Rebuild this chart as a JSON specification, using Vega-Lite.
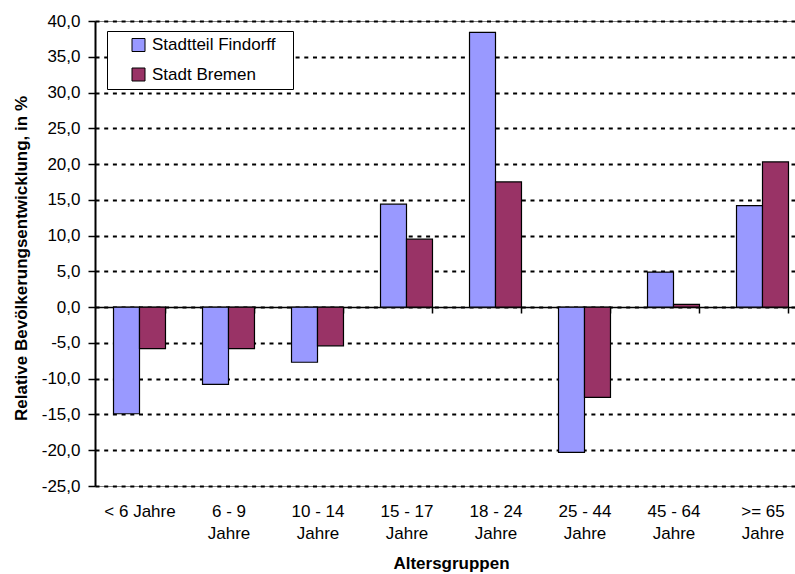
{
  "$schema": "https://vega.github.io/schema/vega-lite/v6.json",
  "width": 700,
  "height": 465,
  "autosize": {"type": "none"},
  "padding": {"left": 95, "top": 21, "right": 0, "bottom": 88},
  "background": "white",
  "config": {
    "font": "Liberation Sans",
    "view": {"stroke": "#808080", "strokeWidth": 1}
  },
  "data": {
    "values": [
      {"group": "< 6 Jahre", "series": "Stadtteil Findorff", "value": -14.9},
      {"group": "< 6 Jahre", "series": "Stadt Bremen", "value": -5.8},
      {"group": "6 - 9 Jahre", "series": "Stadtteil Findorff", "value": -10.8},
      {"group": "6 - 9 Jahre", "series": "Stadt Bremen", "value": -5.8},
      {"group": "10 - 14 Jahre", "series": "Stadtteil Findorff", "value": -7.7},
      {"group": "10 - 14 Jahre", "series": "Stadt Bremen", "value": -5.4},
      {"group": "15 - 17 Jahre", "series": "Stadtteil Findorff", "value": 14.4},
      {"group": "15 - 17 Jahre", "series": "Stadt Bremen", "value": 9.5},
      {"group": "18 - 24 Jahre", "series": "Stadtteil Findorff", "value": 38.4},
      {"group": "18 - 24 Jahre", "series": "Stadt Bremen", "value": 17.5},
      {"group": "25 - 44 Jahre", "series": "Stadtteil Findorff", "value": -20.3},
      {"group": "25 - 44 Jahre", "series": "Stadt Bremen", "value": -12.6},
      {"group": "45 - 64 Jahre", "series": "Stadtteil Findorff", "value": 4.9},
      {"group": "45 - 64 Jahre", "series": "Stadt Bremen", "value": 0.4},
      {"group": ">= 65 Jahre", "series": "Stadtteil Findorff", "value": 14.2},
      {"group": ">= 65 Jahre", "series": "Stadt Bremen", "value": 20.3}
    ]
  },
  "mark": {"type": "bar", "stroke": "black", "strokeWidth": 1.2},
  "encoding": {
    "x": {
      "field": "group",
      "type": "nominal",
      "sort": null,
      "scale": {"range": [0, 712], "paddingInner": 0.416, "paddingOuter": 0.208},
      "axis": {
        "title": "Altersgruppen",
        "titleFont": "Liberation Sans",
        "titleFontSize": 17,
        "titleFontWeight": "bold",
        "titleColor": "black",
        "titleBaseline": "middle",
        "titleY": 256,
        "titleX": 356,
        "offset": -179,
        "domainColor": "black",
        "domainWidth": 1.5,
        "ticks": true,
        "tickBand": "extent",
        "tickSize": 6,
        "tickColor": "black",
        "tickWidth": 1.5,
        "labelAngle": 0,
        "labelFont": "Liberation Sans",
        "labelFontSize": 17,
        "labelColor": "black",
        "labelPadding": 190,
        "labelBaseline": "top",
        "labelLineHeight": 22,
        "labelExpr": "!isString(datum.value) ? '' : (datum.value == '< 6 Jahre' ? datum.value : [replace(datum.value, ' Jahre', ''), 'Jahre'])"
      }
    },
    "xOffset": {
      "field": "series",
      "type": "nominal",
      "sort": ["Stadtteil Findorff", "Stadt Bremen"],
      "scale": {"paddingInner": 0, "paddingOuter": 0}
    },
    "y": {
      "field": "value",
      "type": "quantitative",
      "scale": {"domain": [-25, 40], "nice": false, "zero": false},
      "axis": {
        "title": "Relative Bevölkerungsentwicklung, in %",
        "titleFont": "Liberation Sans",
        "titleFontSize": 17,
        "titleFontWeight": "bold",
        "titleColor": "black",
        "titleAngle": -90,
        "titleAlign": "center",
        "titleBaseline": "middle",
        "titleX": -74,
        "titleY": 237,
        "values": [-25, -20, -15, -10, -5, 0, 5, 10, 15, 20, 25, 30, 35, 40],
        "labelExpr": "(datum.value < 0 ? '-' : '') + replace(format(abs(datum.value), '.1f'), '.', ',')",
        "labelFont": "Liberation Sans",
        "labelFontSize": 17,
        "labelColor": "black",
        "labelPadding": 8,
        "domainColor": "black",
        "domainWidth": 2,
        "tickColor": "black",
        "tickSize": 7,
        "tickWidth": 1.5,
        "grid": true,
        "gridColor": "black",
        "gridWidth": 2,
        "gridDash": [4, 4.7]
      }
    },
    "color": {
      "field": "series",
      "type": "nominal",
      "sort": ["Stadtteil Findorff", "Stadt Bremen"],
      "scale": {"domain": ["Stadtteil Findorff", "Stadt Bremen"], "range": ["#9999FF", "#993366"]},
      "legend": {
        "title": " ",
        "titleOrient": "right",
        "titlePadding": 12,
        "titleFontSize": 17,
        "orient": "none",
        "legendX": 12,
        "legendY": 10,
        "fillColor": "white",
        "strokeColor": "black",
        "padding": 5.5,
        "symbolType": "square",
        "symbolSize": 169,
        "symbolStrokeColor": "black",
        "symbolStrokeWidth": 1,
        "symbolOffset": 17.5,
        "labelOffset": 5,
        "labelFont": "Liberation Sans",
        "labelFontSize": 17,
        "labelColor": "black",
        "rowPadding": 11.5
      }
    }
  }
}
